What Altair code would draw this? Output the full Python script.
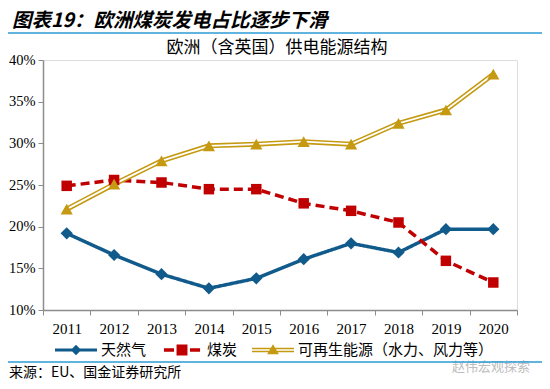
import altair as alt
import pandas as pd

# ---- data ----
years = ["2011", "2012", "2013", "2014", "2015", "2016", "2017", "2018", "2019", "2020"]
gas = [19.2, 16.6, 14.3, 12.6, 13.8, 16.1, 18.0, 16.9, 19.7, 19.7]
coal = [24.9, 25.6, 25.3, 24.5, 24.5, 22.8, 21.9, 20.5, 15.9, 13.3]
renew = [22.1, 25.1, 27.9, 29.7, 29.9, 30.2, 29.9, 32.4, 34.0, 38.3]
series_names = ["天然气", "煤炭", "可再生能源（水力、风力等）"]
y_ticks = [10, 15, 20, 25, 30, 35, 40]

header_text = "图表19：欧洲煤炭发电占比逐步下滑"
subtitle_text = "欧洲（含英国）供电能源结构"
source_text = "来源：EU、国金证券研究所"
watermark_text = "赵伟宏观探索"

colors = ["#115A8C", "#C00000", "#C59A12"]
GOLD = "#C59A12"
SEP_BLUE = "#2E9BD6"
AXIS_GRAY = "#8C8C8C"
FONT_NUM = "Liberation Serif, Noto Sans CJK SC"
FONT_CJK = "Noto Sans CJK SC"

rows = []
for name, vals in zip(series_names, [gas, coal, renew]):
    for yr, v in zip(years, vals):
        rows.append({"year": yr, "series": name, "value": v})
df = pd.DataFrame(rows)

x_enc = alt.X(
    "year:O",
    sort=years,
    scale=alt.Scale(type="band", paddingInner=0, paddingOuter=0),
    axis=alt.Axis(
        title=None, labelAngle=0, tickBand="extent", tickSize=5, labelPadding=6,
        labelFont=FONT_NUM, labelFontSize=15, labelColor="black",
        domainColor=AXIS_GRAY, tickColor=AXIS_GRAY, grid=False, domainWidth=1.5,
    ),
)
y_enc = alt.Y(
    "value:Q",
    scale=alt.Scale(domain=[10, 40], nice=False, zero=False),
    axis=alt.Axis(
        title=None, values=y_ticks, labelExpr="datum.value + '%'", tickSize=5,
        labelPadding=3, labelFont=FONT_NUM, labelFontSize=14.5, labelColor="black",
        domainColor=AXIS_GRAY, tickColor=AXIS_GRAY, grid=False, domainWidth=1.5,
    ),
)
color_scale = alt.Scale(domain=series_names, range=colors)

base = alt.Chart(df)

# legend-only layer: drawn first, tiny and hidden beneath the real markers
path_gas = "M-1,-0.07L1,-0.07L1,0.07L-1,0.07Z M0,-0.25L0.25,0L0,0.25L-0.25,0Z"
path_coal = ("M-0.86,-0.08L-0.38,-0.08L-0.38,0.08L-0.86,0.08Z "
             "M-0.26,-0.26L0.26,-0.26L0.26,0.26L-0.26,0.26Z "
             "M0.38,-0.08L0.86,-0.08L0.86,0.08L0.38,0.08Z")
path_renew = ("M-1,-0.11L1,-0.11L1,-0.04L-1,-0.04Z "
              "M-1,0.04L1,0.04L1,0.11L-1,0.11Z "
              "M0,-0.27L0.28,0.2L-0.28,0.2Z")

legend_params = dict(
    orient="none", legendX=12, legendY=269, direction="horizontal", title=None,
    symbolSize=1764, symbolStrokeWidth=0, symbolOpacity=1,
    labelFont=FONT_CJK, labelFontSize=15, labelColor="black", labelOffset=4,
    columnPadding=14, labelLimit=400,
)

legend_layer = base.mark_point(filled=True, opacity=0).encode(
    x=x_enc, y=y_enc,
    fill=alt.Fill("series:N", scale=alt.Scale(domain=series_names, range=colors),
                  legend=alt.Legend(**legend_params)),
    shape=alt.Shape("series:N", scale=alt.Scale(domain=series_names,
                    range=[path_gas, path_coal, path_renew]),
                    legend=alt.Legend(**legend_params)),
)

gas_coal = base.transform_filter(
    alt.FieldOneOfPredicate(field="series", oneOf=series_names[:2])
).mark_line(strokeWidth=3.5).encode(
    x=x_enc, y=y_enc,
    color=alt.Color("series:N", scale=color_scale, legend=None),
    strokeDash=alt.StrokeDash(
        "series:N",
        scale=alt.Scale(domain=series_names[:2], range=[[1, 0], [9, 5]]),
        legend=None,
    ),
)

renew_outer = base.transform_filter(
    alt.datum.series == series_names[2]
).mark_line(strokeWidth=5, color=GOLD).encode(x=x_enc, y=y_enc)

renew_inner = base.transform_filter(
    alt.datum.series == series_names[2]
).mark_line(strokeWidth=1.8, color="white").encode(x=x_enc, y=y_enc)

marker_shapes = ["diamond", "square", "triangle-up"]
marker_sizes = [150, 110, 150]
marker_layers = [
    base.transform_filter(alt.datum.series == name).mark_point(
        filled=True, opacity=1, shape=shp, size=sz, color=col
    ).encode(x=x_enc, y=y_enc)
    for name, shp, sz, col in zip(series_names, marker_shapes, marker_sizes, colors)
]

one = alt.Data(values=[{"h": header_text, "s": subtitle_text, "src": source_text, "w": watermark_text}])

header = alt.Chart(one).mark_text(
    align="left", baseline="middle", font=FONT_CJK, fontSize=19.5,
    fontWeight="bold", fontStyle="italic", color="black",
).encode(text="h:N", x=alt.value(-31), y=alt.value(-39))

subtitle = alt.Chart(one).mark_text(
    align="center", baseline="middle", font=FONT_CJK, fontSize=17, color="black",
).encode(text="s:N", x=alt.value(234), y=alt.value(-12))

source = alt.Chart(one).mark_text(
    align="left", baseline="middle", font=FONT_CJK, fontSize=14, color="black",
).encode(text="src:N", x=alt.value(-34), y=alt.value(313))

watermark = alt.Chart(one).mark_text(
    align="left", baseline="middle", font=FONT_CJK, fontSize=13, color="#BDBDBD",
).encode(text="w:N", x=alt.value(409), y=alt.value(307))

top_rule = alt.Chart(one).mark_rule(color=SEP_BLUE, strokeWidth=1.5).encode(
    x=alt.value(-35), x2=alt.value(499), y=alt.value(-27))
bottom_rule = alt.Chart(one).mark_rule(color=SEP_BLUE, strokeWidth=1.5).encode(
    x=alt.value(-35), x2=alt.value(499), y=alt.value(302))

chart = alt.layer(
    legend_layer, gas_coal, renew_outer, renew_inner, *marker_layers,
    header, subtitle, source, watermark, top_rule, bottom_rule,
).properties(
    width=474, height=250,
    autosize=alt.AutoSizeParams(type="none"),
    padding={"left": 35, "top": 52, "right": 25, "bottom": 71},
).configure_view(stroke=None).configure(background="white")

chart.save("out.html", embed_options={"renderer": "svg", "actions": False})
